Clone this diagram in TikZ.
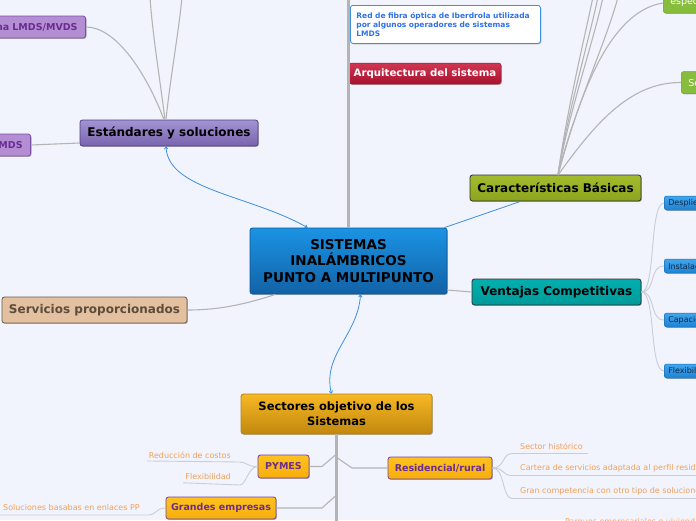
\documentclass[tikz,border=0pt]{standalone}
\usepackage{fontspec}
\setmainfont{DejaVu Sans}
\usetikzlibrary{shadows,arrows.meta}
\definecolor{bg}{HTML}{F1F4FC}
\definecolor{branchc}{HTML}{B4B4B4}
\definecolor{leafc}{HTML}{CACDD6}
\definecolor{arrowc}{HTML}{3C8EE6}
\definecolor{purptext}{HTML}{6A2C91}
\definecolor{leaftext}{HTML}{F2A05A}
\definecolor{cTop}{HTML}{1B93E4}
\definecolor{cBot}{HTML}{1262A6}
\definecolor{cBor}{HTML}{0E5594}
\definecolor{eTop}{HTML}{A394D4}
\definecolor{eBot}{HTML}{7864AE}
\definecolor{eBor}{HTML}{4E3F80}
\definecolor{pFill}{HTML}{B48ED3}
\definecolor{pBor}{HTML}{7D4DA6}
\definecolor{aTop}{HTML}{D03752}
\definecolor{aBot}{HTML}{A8122E}
\definecolor{aBor}{HTML}{9A1A30}
\definecolor{kTop}{HTML}{A3BC2E}
\definecolor{kBot}{HTML}{8CA41E}
\definecolor{vTop}{HTML}{00AFAF}
\definecolor{vBot}{HTML}{009A9A}
\definecolor{sFill}{HTML}{E3C0A0}
\definecolor{sBor}{HTML}{6B5A4A}
\definecolor{sTxt}{HTML}{5C4C3C}
\definecolor{oTop}{HTML}{F7B824}
\definecolor{oBot}{HTML}{C0880F}
\definecolor{oBor}{HTML}{B8830E}
\definecolor{yTop}{HTML}{FFC21F}
\definecolor{yBot}{HTML}{F6AE0C}
\definecolor{gFill}{HTML}{86BD3C}
\definecolor{gBor}{HTML}{6FA02C}
\definecolor{bTop}{HTML}{40A6EE}
\definecolor{bBot}{HTML}{1F82D2}
\definecolor{bBor}{HTML}{1A70B8}
\definecolor{bTxt}{HTML}{0E2A4A}
\definecolor{darkbor}{HTML}{2F2F2F}
\tikzset{
  sh/.style={drop shadow={shadow xshift=0.9pt,shadow yshift=-0.9pt,opacity=0.25,fill=black}},
  boxbase/.style={rounded corners=2.5pt,inner sep=0pt,align=center,draw,line width=0.8pt,sh},
  bigfont/.style={font=\fontsize{12}{14}\selectfont\bfseries},
  branch/.style={draw=branchc,line width=1.1pt},
  leafline/.style={draw=leafc,line width=0.9pt},
  trunk/.style={draw=branchc,line width=3pt},
  biarrow/.style={draw=arrowc,line width=0.8pt,{To[length=3pt,width=4pt]}-{To[length=3pt,width=4pt]}},
  leafnode/.style={font=\fontsize{8}{9}\selectfont,text=leaftext,inner xsep=2pt,inner ysep=2.5pt},
  orangebox/.style={boxbase,top color=yTop,bottom color=yBot,draw=purptext!90,text=purptext,font=\fontsize{9.5}{11}\selectfont\bfseries,minimum height=22pt},
  bluesmall/.style={boxbase,top color=bTop,bottom color=bBot,draw=bBor,line width=0.5pt,text=bTxt,font=\fontsize{8}{9}\selectfont,minimum height=14pt,text width=52pt,align=left,inner xsep=4pt,anchor=west},
  greenbox/.style={boxbase,fill=gFill,draw=gBor,line width=0.5pt,text=white,font=\fontsize{9.5}{11}\selectfont,minimum height=22pt,text width=60pt,align=left,inner xsep=7pt,anchor=west},
  purpbox/.style={boxbase,fill=pFill,draw=pBor,text=purptext,font=\fontsize{9.5}{11}\selectfont\bfseries,minimum height=22pt,align=right,inner xsep=8pt,anchor=east}
}
\begin{document}
\begin{tikzpicture}[x=1pt,y=-1pt]
\useasboundingbox (0,0) rectangle (696,520);
\clip (0,0) rectangle (696,520);
\fill[bg] (0,0) rectangle (696,520);

% ---------- nodes ----------
\node[boxbase,top color=cTop,bottom color=cBot,draw=cBor,minimum width=197pt,minimum height=66pt,font=\fontsize{13.5}{16.5}\selectfont\bfseries] (c) at (348.5,261) {SISTEMAS\\INALÁMBRICOS\\PUNTO A MULTIPUNTO};

\node[boxbase,bigfont,top color=eTop,bottom color=eBot,draw=eBor,minimum width=178pt,minimum height=26pt] (est) at (169,133) {Estándares y soluciones};

\node[purpbox,text width=100pt] (lmdsmvds) at (86,27) {na LMDS/MVDS};
\node[purpbox,text width=60pt] (mds) at (31,145) {LMDS};

\node[rounded corners=2.5pt,draw=arrowc,line width=0.8pt,fill=white,anchor=north west,minimum width=190pt,minimum height=38pt,text width=178pt,align=left,inner xsep=6pt,text=arrowc!80!blue,font=\fontsize{7.5}{9}\selectfont\bfseries,sh] (fibra) at (350,5) {Red de fibra óptica de Iberdrola utilizada por algunos operadores de sistemas LMDS};

\node[boxbase,top color=aTop,bottom color=aBot,draw=aBor,line width=0.5pt,text=white,minimum width=152pt,minimum height=21pt,font=\fontsize{10.2}{12}\selectfont\bfseries] (arq) at (425,73.5) {Arquitectura del sistema};

\node[boxbase,bigfont,top color=kTop,bottom color=kBot,draw=darkbor,minimum width=171pt,minimum height=26pt] (car) at (555.5,188) {Características Básicas};

\node[boxbase,bigfont,top color=vTop,bottom color=vBot,draw=darkbor,minimum width=169pt,minimum height=26pt] (ven) at (556.5,292) {Ventajas Competitivas};

\node[boxbase,bigfont,fill=sFill,draw=sBor,text=sTxt,minimum width=185pt,minimum height=26pt] (serv) at (94.5,310) {Servicios proporcionados};

\node[boxbase,top color=oTop,bottom color=oBot,draw=oBor,font=\fontsize{11.5}{15}\selectfont\bfseries,minimum width=191pt,minimum height=40pt] (sec) at (336.5,414) {Sectores objetivo de los\\Sistemas};

\node[orangebox,minimum width=51pt,minimum height=23pt] (pymes) at (283.5,466.5) {PYMES};
\node[orangebox,minimum width=104pt] (res) at (440,468) {Residencial/rural};
\node[orangebox,minimum width=110pt] (gr) at (221,508) {Grandes empresas};

\node[greenbox] (espec) at (663,2) {especificaciones};
\node[greenbox] (sgreen) at (681,82.5) {Servicios};

\node[bluesmall] (b1) at (664,203) {Despliegue};
\node[bluesmall] (b2) at (664,266) {Instalación};
\node[bluesmall] (b3) at (664,320) {Capacidad};
\node[bluesmall] (b4) at (664,371) {Flexibilidad};

% leaves
\node[leafnode,anchor=east] (l1) at (233,455) {Reducción de costos};
\node[leafnode,anchor=east] (l2) at (233,477) {Flexibilidad};
\node[leafnode,anchor=west] (l3) at (1,508) {Soluciones basabas en enlaces PP};
\node[leafnode,anchor=west] (r1) at (518,446) {Sector histórico};
\node[leafnode,anchor=west] (r2) at (518,468) {Cartera de servicios adaptada al perfil residencial};
\node[leafnode,anchor=west] (r3) at (518,491) {Gran competencia con otro tipo de soluciones};
\node[leafnode,anchor=west] (r4) at (563,522) {Parques empresariales o viviendas};

% ---------- connectors ----------
\coordinate (vt) at (348.5,-3);
\draw[trunk] (c.north) -- (vt);

\coordinate (tl1) at (150,-3);
\coordinate (tl2) at (182,-3);
\draw[branch] ([xshift=-4pt]est.north) .. controls (160,80) and (152,30) .. (tl1);
\draw[branch] ([xshift=-3pt]est.north) .. controls (170,80) and (179,30) .. (tl2);
\draw[branch] ([xshift=-5pt]est.north) .. controls (145,70) and (115,27) .. (lmdsmvds.east);
\draw[branch] ([yshift=-10pt]est.west) -- (mds.east);

\draw[biarrow] ([xshift=-3pt]est.south) .. controls (168,190) and (250,195) .. ([xshift=-41pt]c.north);
\draw[biarrow] ([xshift=12pt]c.south) .. controls (358,335) and (322,355) .. ([xshift=-5pt]sec.north);

\draw[branch] ([xshift=-73pt]c.south) .. controls (240,306) and (215,310) .. (serv.east);
\draw[draw=arrowc,line width=0.8pt] ([xshift=-3pt]c.north east) -- ([xshift=-35pt]car.south);
\draw[branch] ([yshift=-29pt]c.east) -- (ven.west);

% caracteristicas fan
\coordinate (ct1) at (593,-3);
\coordinate (ct2) at (598,-3);
\coordinate (ct3) at (603,-3);
\coordinate (ct4) at (618,-3);
\coordinate (cj) at (558,175);
\draw[branch] (cj) .. controls (566,115) and (584,40) .. (ct1);
\draw[branch] (cj) .. controls (567,115) and (589,40) .. (ct2);
\draw[branch] (cj) .. controls (568,115) and (594,40) .. (ct3);
\draw[branch] (cj) .. controls (572,115) and (607,40) .. (ct4);
\draw[branch] (cj) .. controls (576,110) and (605,12) .. ([yshift=-1pt]espec.west);
\draw[branch] (cj) .. controls (592,128) and (628,82) .. (sgreen.west);

% ventajas children
\foreach \b in {b1,b2,b3,b4}
  \draw[leafline] (ven.east) .. controls (656,292) and (649,0|-\b.west) .. (\b.west);

% sectores trunk
\coordinate (st) at (336.5,523);
\draw[trunk] (sec.south) -- (st);
\coordinate (j1) at (336.5,454);
\coordinate (j2) at (337.5,458);
\coordinate (j3) at (336.5,495);
\draw[branch] (j1) -- (322,466.5) -- (pymes.east);
\draw[branch] (j2) -- (352,468) -- (res.west);
\draw[branch] (j3) -- (322,508) -- (gr.east);

% leaves left
\draw[leafline] (pymes.west) .. controls (248,467) and (246,462) .. (240,462) -- (l1.south west);
\draw[leafline] (pymes.west) .. controls (248,467) and (246,485) .. (240,485) -- (l2.south west);
\draw[leafline] (gr.west) .. controls (156,508) and (156,515) .. (148,515) -- (-2,515);

% leaves right
\draw[leafline] (res.east) .. controls (505,468) and (502,453.5) .. (512,453.5) -- (588,453.5);
\draw[leafline] (res.east) .. controls (505,468) and (502,475.5) .. (512,475.5) -- (700,475.5);
\draw[leafline] (res.east) .. controls (505,468) and (502,498.5) .. (512,498.5) -- (700,498.5);
\end{tikzpicture}
\end{document}
